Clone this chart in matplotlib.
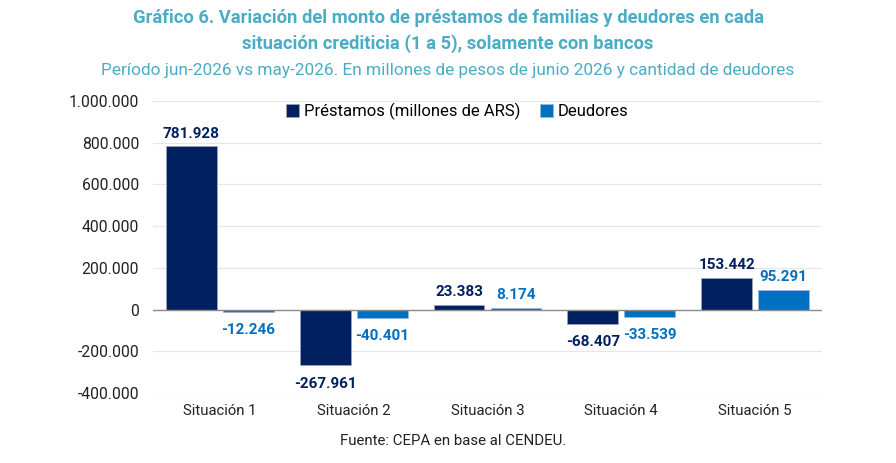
import matplotlib
matplotlib.use("Agg")
import matplotlib.pyplot as plt
import numpy as np
from matplotlib.ticker import FuncFormatter

categories = ["Situación 1", "Situación 2", "Situación 3", "Situación 4", "Situación 5"]
prestamos = [781928, -267961, 23383, -68407, 153442]
deudores = [-12246, -40401, 8174, -33539, 95291]
series_names = ["Préstamos (millones de ARS)", "Deudores"]
yticks = [-400000, -200000, 0, 200000, 400000, 600000, 800000, 1000000]

plt.rcParams['font.family'] = ['Roboto', 'DejaVu Sans']

navy = "#002060"
blue = "#0070C0"
teal = "#4BACC6"

fig = plt.figure(figsize=(8.96, 4.63), dpi=100)
ax = fig.add_axes([0.1708, 0.1512, 0.7466, 0.6307])

x = np.arange(len(categories))
w = 0.38
off = 0.213
b1 = ax.bar(x - off, prestamos, w, color=navy, edgecolor="#9aa3b5", linewidth=0.6, label=series_names[0], zorder=3)
b2 = ax.bar(x + off, deudores, w, color=blue, edgecolor="#9ab8d6", linewidth=0.6, label=series_names[1], zorder=3)

def fmt(v):
    s = f"{abs(int(v)):,}".replace(",", ".")
    return ("-" if v < 0 else "") + s

for bars, vals, col in [(b1, prestamos, navy), (b2, deudores, blue)]:
    for b, v in zip(bars, vals):
        cx = b.get_x() + b.get_width() / 2
        if v >= 0:
            ax.annotate(fmt(v), (cx, v), xytext=(0, 4), textcoords="offset points",
                        ha="center", va="bottom", fontsize=11, fontweight="bold", color=col)
        else:
            ax.annotate(fmt(v), (cx, v), xytext=(0, -8), textcoords="offset points",
                        ha="center", va="top", fontsize=11, fontweight="bold", color=col)

ax.set_xlim(-0.5, 4.5)
ax.set_ylim(-400000, 1000000)
ax.set_yticks(yticks)
ax.yaxis.set_major_formatter(FuncFormatter(lambda v, p: fmt(v)))
ax.set_xticks(x)
ax.set_xticklabels(categories)
ax.tick_params(axis="both", length=0, colors="#222222")
ax.tick_params(axis="y", pad=10, labelsize=11.3)
ax.tick_params(axis="x", pad=8, labelsize=10.7)
for s in ax.spines.values():
    s.set_visible(False)
ax.grid(axis="y", color="#e6e6e6", linewidth=0.8, zorder=0)
ax.axhline(0, color="#8c8c8c", linewidth=1.0, zorder=4)

ax.legend(loc="upper center", bbox_to_anchor=(0.455, 1.045), ncol=2, frameon=False,
          fontsize=12, handlelength=0.75, handleheight=0.75, handletextpad=0.3, columnspacing=1.2)

fig.text(0.5, 1 - 18 / 463, "Gráfico 6. Variación del monto de préstamos de familias y deudores en cada",
         ha="center", va="center", fontsize=13.2, fontweight="bold", color=teal)
fig.text(0.5, 1 - 44 / 463, "situación crediticia (1 a 5), solamente con bancos",
         ha="center", va="center", fontsize=13.2, fontweight="bold", color=teal)
fig.text(0.5, 1 - 70 / 463, "Período jun-2026 vs may-2026. En millones de pesos de junio 2026 y cantidad de deudores",
         ha="center", va="center", fontsize=12.4, color=teal)
fig.text(453 / 896, 1 - 441 / 463, "Fuente: CEPA en base al CENDEU.",
         ha="center", va="center", fontsize=10.8, color="#222222")

fig.savefig("out.png", dpi=100, facecolor="white")
